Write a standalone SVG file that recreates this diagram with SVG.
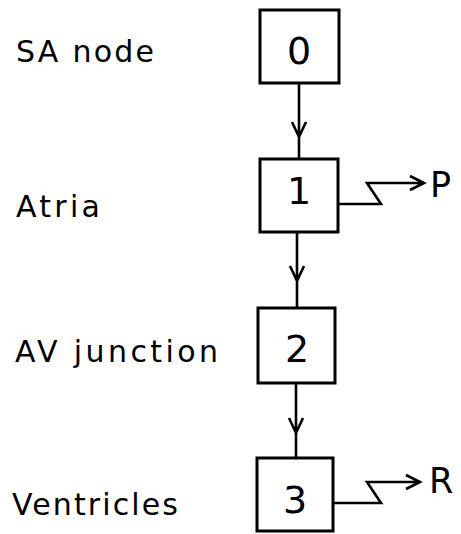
<svg xmlns="http://www.w3.org/2000/svg" width="461" height="534" viewBox="0 0 461 534">
<style>
.box{fill:#fff;stroke:#000;stroke-width:3}
.ln{fill:none;stroke:#000;stroke-width:2.6;stroke-linejoin:miter}
.lab{font-family:"DejaVu Sans","Liberation Sans",sans-serif;font-size:30px;fill:#000}
.num{font-family:"DejaVu Sans","Liberation Sans",sans-serif;font-size:38px;fill:#000;text-anchor:middle}
.out{font-family:"DejaVu Sans","Liberation Sans",sans-serif;font-size:35px;fill:#000}
</style>
<rect width="461" height="534" fill="#fff"/>
<g id="connectors">
<path class="ln" d="M299 83 V159 M292 122 L299 137 L306 122"/>
<path class="ln" d="M297 232 V308 M290 266 L297 281 L304 266"/>
<path class="ln" d="M296 383 V458 M289 418 L296 433 L303 418"/>
<path class="ln" d="M338 204 H381 L367 183 H424 M410 176 L424 183 L410 190"/>
<path class="ln" d="M333 503 H381 L367 482 H420 M406 475 L420 482 L406 489"/>
</g>
<g id="node0">
<rect class="box" x="260" y="10" width="79" height="73"/>
<text class="num" x="299" y="64">0</text>
<text class="lab" x="16" y="62" textLength="138" lengthAdjust="spacing">SA node</text>
</g>
<g id="node1">
<rect class="box" x="260" y="159" width="78" height="73"/>
<text class="num" x="299" y="204">1</text>
<text class="lab" x="16" y="217" textLength="84" lengthAdjust="spacing">Atria</text>
</g>
<g id="node2">
<rect class="box" x="258" y="308" width="77" height="75"/>
<text class="num" x="297" y="362">2</text>
<text class="lab" x="15" y="362" textLength="203" lengthAdjust="spacing">AV junction</text>
</g>
<g id="node3">
<rect class="box" x="257" y="458" width="76" height="73"/>
<text class="num" x="295" y="513">3</text>
<text class="lab" x="12" y="515" textLength="166" lengthAdjust="spacing">Ventricles</text>
</g>
<g id="outP"><text class="out" x="430" y="197">P</text></g>
<g id="outR"><text class="out" x="429" y="493">R</text></g>
</svg>
